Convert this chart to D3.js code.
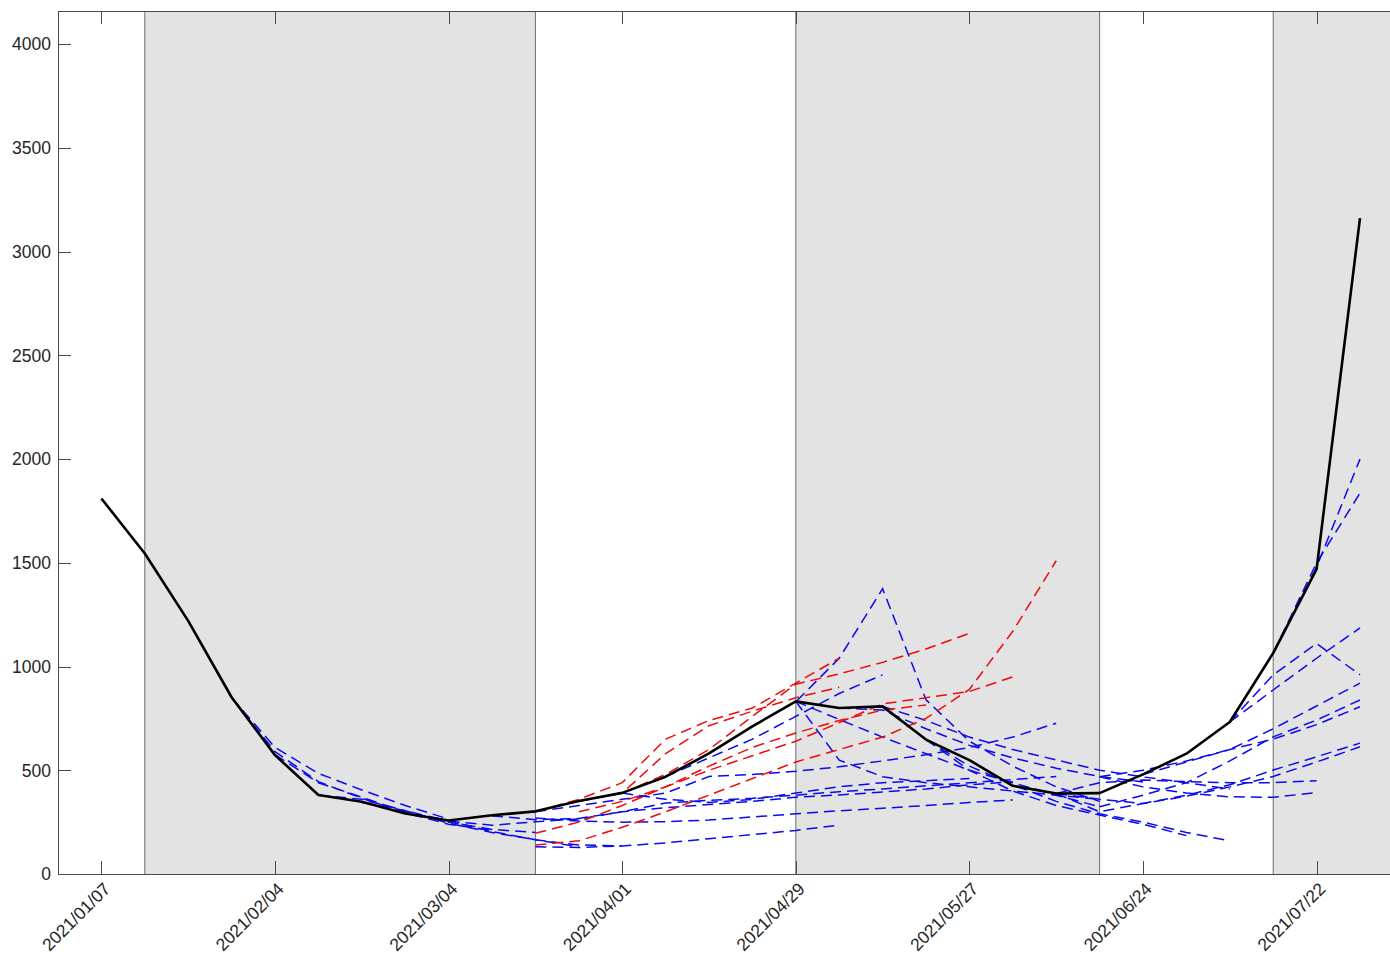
<!DOCTYPE html>
<html>
<head>
<meta charset="utf-8">
<script src="https://cdn.jsdelivr.net/npm/d3@7"></script>
<style>
  body { margin: 0; background: #fff; }
  svg { display: block; }
  .tick-label { font-family: "Liberation Sans", Arial, Helvetica, sans-serif; font-size: 17.5px; fill: #262626; }
</style>
</head>
<body>
<svg id="chart" width="1390" height="957"></svg>
<script>
// weekly observed series, first point 2021-01-07
const firstWeek = "2021-01-07";
const observed = [1810, 1545, 1220, 852, 573, 381, 348, 292, 258, 283, 302, 352, 391, 469, 581,
  712, 832, 800, 808, 648, 549, 425, 388, 390, 480, 580, 733, 1065, 1470, 3162];

// shaded periods
const shadedPeriods = [
  ["2021-01-14", "2021-03-18"],
  ["2021-04-29", "2021-06-17"],
  ["2021-07-15", "2021-08-05"]
];

// forecasts: [issue week, weekly values]
const blueForecasts = [
  ["2021-01-28", [850, 610, 485, 405, 330, 265]],
  ["2021-01-28", [850, 590, 445, 365, 295, 240, 210]],
  ["2021-02-04", [575, 440, 370, 300, 250, 215, 200]],
  ["2021-02-11", [380, 360, 305, 245, 200, 165, 140, 135]],
  ["2021-02-18", [345, 305, 255, 205, 165, 131]],
  ["2021-03-18", [131, 128, 135, 150, 170, 190, 210, 236]],
  ["2021-03-04", [255, 235, 252, 265, 300, 320, 335, 350, 370, 381, 395, 410, 430, 445]],
  ["2021-03-11", [280, 262, 268, 300, 342, 355, 365, 380, 397, 410, 425, 440, 455, 470]],
  ["2021-03-18", [300, 330, 360, 390, 470, 480, 495, 517, 545, 575, 610, 660, 727]],
  ["2021-03-18", [270, 255, 250, 252, 260, 275, 290, 305, 317, 330, 345, 357]],
  ["2021-04-01", [390, 360, 345, 360, 390, 421, 440, 450, 460]],
  ["2021-04-08", [469, 560, 650, 760, 870, 960]],
  ["2021-04-22", [712, 830, 1040, 1375, 840, 640, 520, 420, 350]],
  ["2021-04-29", [832, 549, 469, 440, 420, 400, 380, 360]],
  ["2021-04-29", [832, 745, 660, 580, 500, 440, 380, 324]],
  ["2021-05-06", [800, 790, 700, 620, 560, 510, 470, 444]],
  ["2021-05-13", [808, 740, 660, 600, 550, 500, 468, 440, 410]],
  ["2021-05-20", [648, 520, 430, 350, 290, 250, 200, 160]],
  ["2021-05-20", [648, 500, 400, 330, 284, 240, 185]],
  ["2021-06-10", [388, 440, 453, 445, 440, 440, 450]],
  ["2021-06-17", [469, 500, 545, 600, 700, 810, 920]],
  ["2021-06-17", [324, 380, 440, 545, 661, 742, 839]],
  ["2021-06-10", [388, 360, 340, 380, 430, 501, 565, 631]],
  ["2021-06-10", [388, 300, 340, 375, 420, 470, 540, 613]],
  ["2021-06-17", [469, 420, 390, 372, 370, 392]],
  ["2021-06-24", [480, 540, 600, 650, 720, 806]],
  ["2021-07-08", [733, 960, 1111, 960]],
  ["2021-07-08", [733, 887, 1040, 1186]],
  ["2021-07-15", [1065, 1480, 2000]],
  ["2021-07-15", [1065, 1500, 1836]]
];

const redForecasts = [
  ["2021-03-18", [300, 360, 440, 650, 740, 800, 920, 1040]],
  ["2021-03-25", [350, 390, 580, 715, 785, 850, 900]],
  ["2021-04-01", [390, 480, 600, 760, 915, 965, 1020, 1085, 1160]],
  ["2021-03-18", [140, 160, 225, 300, 380, 460, 540, 600, 660, 750, 890, 1170, 1510]],
  ["2021-03-18", [196, 250, 330, 420, 500, 570, 640, 730, 820, 850, 880, 950]],
  ["2021-03-25", [300, 350, 420, 520, 610, 680, 740, 790, 815]]
];

const yTicks = [0, 500, 1000, 1500, 2000, 2500, 3000, 3500, 4000];
const xTickDates = ["2021-01-07", "2021-02-04", "2021-03-04", "2021-04-01",
  "2021-04-29", "2021-05-27", "2021-06-24", "2021-07-22"];

const parseDate = d3.timeParse("%Y-%m-%d");
const fmt = d3.timeFormat("%Y/%m/%d");

const plotLeft = 58, plotTop = 11, plotBottom = 874;
const pxPerDay = 6.2;
const xStart = parseDate("2020-12-31"), xEnd = parseDate("2021-08-05");
const plotRight = plotLeft + d3.timeDay.count(xStart, xEnd) * pxPerDay;

const x = d3.scaleTime().domain([xStart, xEnd]).range([plotLeft, plotRight]);
const y = d3.scaleLinear().domain([0, 4160]).range([plotBottom, plotTop]);

const svg = d3.select("#chart");

svg.append("defs").append("clipPath").attr("id", "plot-clip")
  .append("rect")
  .attr("x", plotLeft).attr("y", plotTop)
  .attr("width", plotRight - plotLeft).attr("height", plotBottom - plotTop);

const plot = svg.append("g").attr("clip-path", "url(#plot-clip)");

// shaded bands
plot.selectAll("rect.band")
  .data(shadedPeriods)
  .enter().append("rect")
  .attr("class", "band")
  .attr("x", (d) => x(parseDate(d[0])))
  .attr("y", plotTop)
  .attr("width", (d) => x(parseDate(d[1])) - x(parseDate(d[0])))
  .attr("height", plotBottom - plotTop)
  .style("fill", "#e3e3e3");

// band edges
const edges = shadedPeriods.flat();
plot.selectAll("line.edge")
  .data(edges)
  .enter().append("line")
  .attr("class", "edge")
  .attr("x1", (d) => x(parseDate(d)))
  .attr("x2", (d) => x(parseDate(d)))
  .attr("y1", plotTop).attr("y2", plotBottom)
  .style("stroke", "#6e6e6e")
  .style("stroke-width", 1);

function toPoints(start, values) {
  const s = parseDate(start);
  return values.map((v, i) => ({ date: d3.timeDay.offset(s, 7 * i), value: v }));
}

const line = d3.line()
  .x((d) => x(d.date))
  .y((d) => y(d.value));

function drawForecasts(list, color) {
  plot.append("g")
    .selectAll("path")
    .data(list)
    .enter().append("path")
    .attr("d", (d) => line(toPoints(d[0], d[1])))
    .style("fill", "none")
    .style("stroke", color)
    .style("stroke-width", 1.5)
    .style("stroke-dasharray", "11,6");
}

drawForecasts(blueForecasts, "#0a0aee");
drawForecasts(redForecasts, "#ee0a0a");

plot.append("path")
  .datum(toPoints(firstWeek, observed))
  .attr("d", line)
  .style("fill", "none")
  .style("stroke", "#000")
  .style("stroke-width", 2.6)
  .style("stroke-linejoin", "round");

// frame
const axisColor = "#4a4a4a";
const frame = svg.append("g");
frame.append("line").attr("x1", plotLeft).attr("x2", plotRight).attr("y1", plotTop + 0.5).attr("y2", plotTop + 0.5);
frame.append("line").attr("x1", plotLeft).attr("x2", plotRight).attr("y1", plotBottom + 0.5).attr("y2", plotBottom + 0.5);
frame.append("line").attr("x1", plotLeft + 0.5).attr("x2", plotLeft + 0.5).attr("y1", plotTop).attr("y2", plotBottom + 1);
frame.selectAll("line").style("stroke", axisColor).style("stroke-width", 1);

// y ticks (inside)
const yAxis = svg.append("g");
yAxis.selectAll("line")
  .data(yTicks)
  .enter().append("line")
  .attr("x1", plotLeft).attr("x2", plotLeft + 13)
  .attr("y1", (d) => Math.round(y(d)) + 0.5).attr("y2", (d) => Math.round(y(d)) + 0.5)
  .style("stroke", axisColor);
yAxis.selectAll("text")
  .data(yTicks)
  .enter().append("text")
  .attr("class", "tick-label")
  .attr("x", plotLeft - 7)
  .attr("y", (d) => y(d))
  .attr("dy", "0.36em")
  .attr("text-anchor", "end")
  .text((d) => d);

// x ticks (inside, bottom and top)
const xAxis = svg.append("g");
const xTicks = xTickDates.map(parseDate);
xAxis.selectAll("line.bottom")
  .data(xTicks)
  .enter().append("line")
  .attr("class", "bottom")
  .attr("x1", (d) => Math.round(x(d)) + 0.5).attr("x2", (d) => Math.round(x(d)) + 0.5)
  .attr("y1", plotBottom).attr("y2", plotBottom - 13)
  .style("stroke", axisColor);
xAxis.selectAll("line.top")
  .data(xTicks)
  .enter().append("line")
  .attr("class", "top")
  .attr("x1", (d) => Math.round(x(d)) + 0.5).attr("x2", (d) => Math.round(x(d)) + 0.5)
  .attr("y1", plotTop).attr("y2", plotTop + 13)
  .style("stroke", axisColor);
xAxis.selectAll("text")
  .data(xTicks)
  .enter().append("text")
  .attr("class", "tick-label")
  .attr("text-anchor", "end")
  .attr("transform", (d) => `translate(${x(d) + 10},${plotBottom + 16}) rotate(-45)`)
  .text((d) => fmt(d));
</script>
</body>
</html>
